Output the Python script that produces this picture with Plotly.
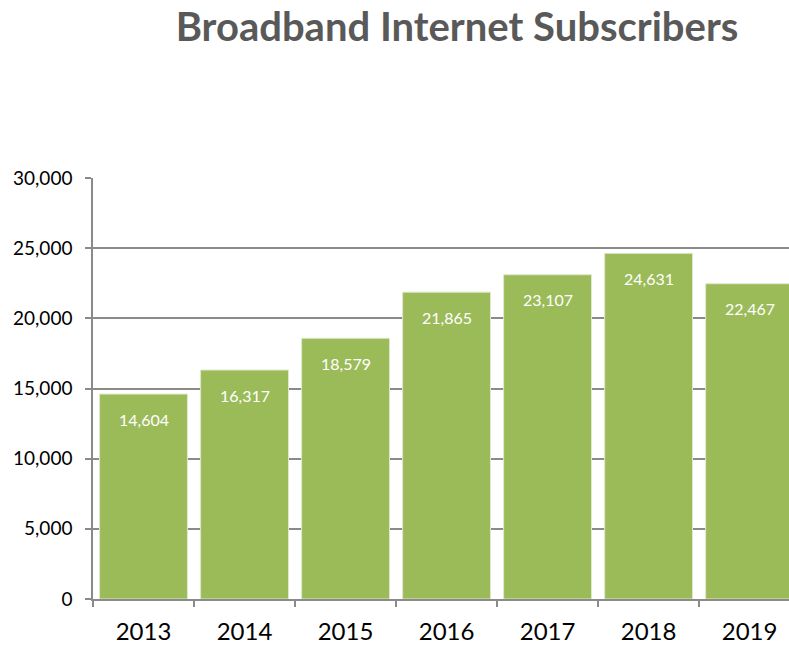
import plotly.graph_objects as go

years = ["2013", "2014", "2015", "2016", "2017", "2018", "2019"]
subscribers = [14604, 16317, 18579, 21865, 23107, 24631, 22467]
y_ticks = [0, 5000, 10000, 15000, 20000, 25000, 30000]
y_tick_labels = ["0", "5,000", "10,000", "15,000", "20,000", "25,000", "30,000"]

GRID = "#8a8a8a"
FONT = "Lato"

fig = go.Figure(
    go.Bar(
        x=years,
        y=subscribers,
        marker=dict(color="#9bbb59", line=dict(color="#dfe8cc", width=1)),
        hoverinfo="x+y",
    )
)

annotations = []
for i, v in enumerate(subscribers):
    annotations.append(dict(
        x=i, y=v, xref="x", yref="y",
        text=f"{v:,}", showarrow=False,
        xanchor="center", yanchor="middle", yshift=-25,
        font=dict(family=FONT, size=16, color="white"),
    ))

fig.update_layout(
    width=789, height=646,
    margin=dict(l=93, r=0, t=178, b=47),
    paper_bgcolor="white", plot_bgcolor="white",
    bargap=0.13,
    showlegend=False,
    annotations=annotations,
    title=dict(
        text="<b>Broadband Internet Subscribers</b>",
        x=457 / 789, xref="container", xanchor="center",
        y=1 - 27 / 646, yref="container", yanchor="middle",
        font=dict(family=FONT, size=40, color="#595959"),
    ),
)

fig.update_xaxes(
    type="category",
    range=[-0.5, 6.39],
    showline=True, linecolor=GRID, linewidth=1.5,
    ticks="outside", tickson="boundaries", ticklen=6, tickcolor=GRID, tickwidth=1.5,
    showgrid=False,
    tickfont=dict(family=FONT, size=24, color="black"),
    ticklabelstandoff=10,
)

fig.update_yaxes(
    range=[0, 30000],
    tickvals=y_ticks, ticktext=y_tick_labels,
    showline=True, linecolor=GRID, linewidth=1.5,
    showgrid=True, gridcolor=GRID, gridwidth=1.5,
    zeroline=False,
    ticks="outside", ticklen=6, tickcolor=GRID, tickwidth=1.5,
    tickfont=dict(family=FONT, size=19, color="black"),
    ticklabelstandoff=9,
)

fig.write_html(
    "out.html",
    config={"displayModeBar": False},
    post_script="document.body.style.margin='0';document.body.style.padding='0';",
)
